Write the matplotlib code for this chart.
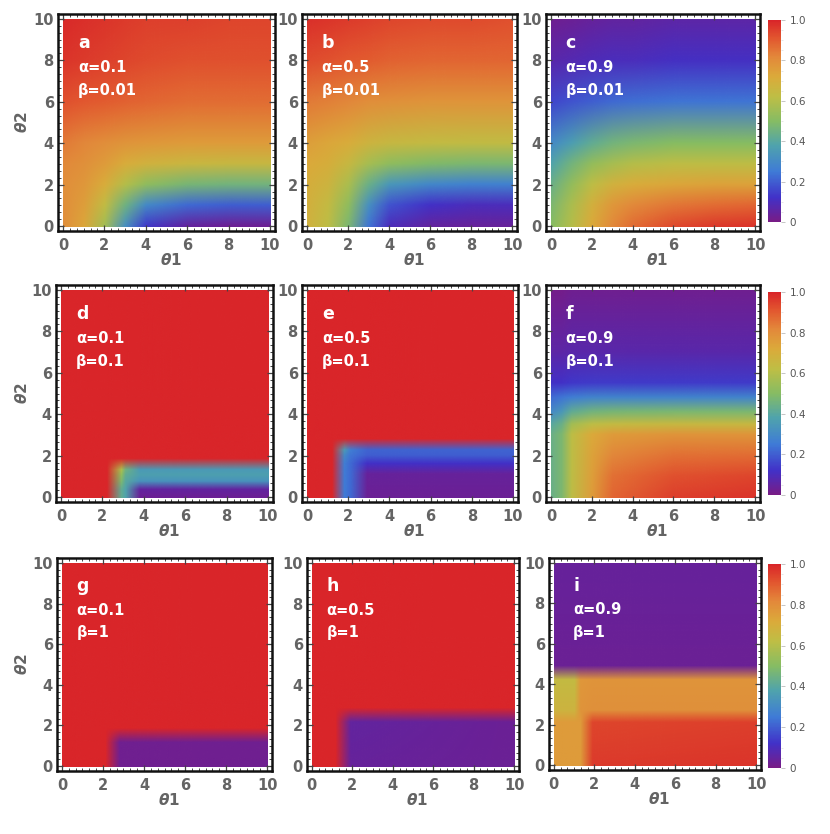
import matplotlib

matplotlib.use("Agg")

import matplotlib.pyplot as plt
import numpy as np
from matplotlib.cm import ScalarMappable
from matplotlib.colors import LinearSegmentedColormap, Normalize
from matplotlib.image import NonUniformImage
from matplotlib.patches import Rectangle
from matplotlib.ticker import AutoMinorLocator, FixedLocator, MultipleLocator

# colour scale (Mathematica-like "Rainbow")
RAINBOW_STOPS = [0.0, 0.12, 0.25, 0.38, 0.5, 0.62, 0.72, 0.82, 0.91, 1.0]
RAINBOW_COLORS = ["#781c86", "#4131c8", "#3f7bd6", "#4fa3ac", "#86bc63",
                  "#bebe45", "#dbaa3a", "#e3873a", "#e2572f", "#d92529"]
CBAR_TICKS = [0.0, 0.2, 0.4, 0.6, 0.8, 1.0]
CBAR_TICK_LABELS = ["0", "0.2", "0.4", "0.6", "0.8", "1.0"]

LETTERS = ["a", "b", "c", "d", "e", "f", "g", "h", "i"]
ALPHAS = ["0.1", "0.5", "0.9"] * 3
BETAS = ["0.01"] * 3 + ["0.1"] * 3 + ["1"] * 3
AXIS_TICKS = [0, 2, 4, 6, 8, 10]

smooth_t1 = [0, 1, 2, 3, 4, 6, 8, 10]
smooth_t2 = [0, 1, 2, 3, 4, 6, 8, 10]

panel_a = [
    [0.80, 0.73, 0.56, 0.32, 0.14, 0.05, 0.03, 0.03],
    [0.80, 0.75, 0.63, 0.45, 0.30, 0.22, 0.20, 0.20],
    [0.80, 0.77, 0.71, 0.60, 0.52, 0.47, 0.46, 0.46],
    [0.81, 0.79, 0.76, 0.71, 0.68, 0.66, 0.65, 0.65],
    [0.84, 0.82, 0.80, 0.78, 0.77, 0.76, 0.76, 0.76],
    [0.92, 0.91, 0.90, 0.89, 0.88, 0.87, 0.87, 0.87],
    [0.97, 0.96, 0.95, 0.94, 0.93, 0.92, 0.92, 0.92],
    [0.99, 0.98, 0.97, 0.96, 0.95, 0.95, 0.94, 0.94],
]
panel_b = [
    [0.68, 0.62, 0.48, 0.24, 0.10, 0.05, 0.04, 0.04],
    [0.69, 0.64, 0.52, 0.32, 0.18, 0.12, 0.10, 0.10],
    [0.70, 0.67, 0.58, 0.44, 0.34, 0.29, 0.27, 0.27],
    [0.72, 0.70, 0.65, 0.57, 0.52, 0.49, 0.48, 0.48],
    [0.75, 0.73, 0.71, 0.67, 0.65, 0.64, 0.63, 0.63],
    [0.84, 0.83, 0.82, 0.80, 0.79, 0.78, 0.78, 0.78],
    [0.93, 0.92, 0.91, 0.90, 0.89, 0.88, 0.88, 0.88],
    [0.98, 0.97, 0.96, 0.95, 0.94, 0.93, 0.93, 0.92],
]
panel_c = [
    [0.50, 0.60, 0.72, 0.81, 0.87, 0.93, 0.96, 0.97],
    [0.48, 0.58, 0.69, 0.77, 0.81, 0.85, 0.87, 0.88],
    [0.44, 0.53, 0.62, 0.68, 0.71, 0.73, 0.74, 0.74],
    [0.38, 0.46, 0.53, 0.57, 0.60, 0.62, 0.62, 0.62],
    [0.30, 0.36, 0.42, 0.46, 0.48, 0.50, 0.50, 0.50],
    [0.16, 0.18, 0.20, 0.22, 0.23, 0.24, 0.24, 0.24],
    [0.07, 0.08, 0.09, 0.10, 0.10, 0.11, 0.11, 0.11],
    [0.02, 0.03, 0.04, 0.05, 0.05, 0.06, 0.06, 0.06],
]

panel_d_t1 = [0, 2.2, 2.9, 3.1, 3.8, 10]
panel_d_t2 = [0, 0.35, 0.75, 1.05, 1.3, 1.85, 10]
panel_d = [
    [1.0, 1.0, 0.42, 0.38, 0.03, 0.03],
    [1.0, 1.0, 0.42, 0.38, 0.05, 0.05],
    [1.0, 1.0, 0.48, 0.40, 0.33, 0.33],
    [1.0, 1.0, 0.52, 0.42, 0.37, 0.37],
    [1.0, 1.0, 0.58, 0.45, 0.35, 0.35],
    [1.0, 1.0, 1.0, 1.0, 1.0, 1.0],
    [1.0, 1.0, 1.0, 1.0, 1.0, 1.0],
]

panel_e_t1 = [0, 1.2, 1.8, 2.1, 2.9, 10]
panel_e_t2 = [0, 1.1, 1.6, 2.0, 2.25, 2.8, 10]
panel_e = [
    [1.0, 1.0, 0.25, 0.22, 0.03, 0.03],
    [1.0, 1.0, 0.25, 0.22, 0.04, 0.04],
    [1.0, 1.0, 0.26, 0.22, 0.12, 0.12],
    [1.0, 1.0, 0.30, 0.24, 0.20, 0.20],
    [1.0, 1.0, 0.35, 0.26, 0.21, 0.21],
    [1.0, 1.0, 1.0, 1.0, 1.0, 1.0],
    [1.0, 1.0, 1.0, 1.0, 1.0, 1.0],
]

panel_f_t1 = [0, 0.5, 1, 2, 3, 6, 10]
panel_f_t2 = [0, 1, 2, 3, 3.5, 4.1, 4.8, 5.5, 7, 10]
panel_f = [
    [0.44, 0.48, 0.62, 0.76, 0.88, 0.95, 0.97],
    [0.44, 0.48, 0.62, 0.75, 0.86, 0.92, 0.94],
    [0.44, 0.48, 0.62, 0.74, 0.82, 0.86, 0.87],
    [0.44, 0.48, 0.62, 0.72, 0.76, 0.78, 0.78],
    [0.40, 0.44, 0.56, 0.62, 0.64, 0.65, 0.65],
    [0.30, 0.34, 0.42, 0.46, 0.47, 0.48, 0.48],
    [0.22, 0.24, 0.26, 0.28, 0.28, 0.28, 0.28],
    [0.12, 0.12, 0.13, 0.14, 0.14, 0.14, 0.14],
    [0.06, 0.06, 0.07, 0.07, 0.07, 0.07, 0.07],
    [0.01, 0.01, 0.02, 0.02, 0.02, 0.02, 0.02],
]

panel_g_t1 = [0, 2.1, 2.8, 10]
panel_g_t2 = [0, 1.15, 1.85, 10]
panel_g = [
    [1.0, 1.0, 0.02, 0.02],
    [1.0, 1.0, 0.02, 0.02],
    [1.0, 1.0, 1.0, 1.0],
    [1.0, 1.0, 1.0, 1.0],
]

panel_h_t1 = [0, 1.15, 1.9, 10]
panel_h_t2 = [0, 2.15, 2.85, 10]
panel_h = [
    [1.0, 1.0, 0.04, 0.03],
    [1.0, 1.0, 0.05, 0.03],
    [1.0, 1.0, 1.0, 1.0],
    [1.0, 1.0, 1.0, 1.0],
]

panel_i_t1 = [0, 1.0, 1.3, 1.9, 10]
panel_i_t2 = [0, 2.1, 2.7, 4.2, 4.9, 10]
panel_i = [
    [0.76, 0.76, 0.76, 0.96, 0.97],
    [0.76, 0.76, 0.76, 0.94, 0.95],
    [0.67, 0.67, 0.78, 0.79, 0.79],
    [0.64, 0.64, 0.77, 0.78, 0.78],
    [0.03, 0.03, 0.03, 0.03, 0.03],
    [0.04, 0.04, 0.04, 0.04, 0.04],
]

PANELS = [
    (smooth_t1, smooth_t2, panel_a),
    (smooth_t1, smooth_t2, panel_b),
    (smooth_t1, smooth_t2, panel_c),
    (panel_d_t1, panel_d_t2, panel_d),
    (panel_e_t1, panel_e_t2, panel_e),
    (panel_f_t1, panel_f_t2, panel_f),
    (panel_g_t1, panel_g_t2, panel_g),
    (panel_h_t1, panel_h_t2, panel_h),
    (panel_i_t1, panel_i_t2, panel_i),
]

# pixel layout (left, top, width, height) of the frames
FRAMES = [
    (58, 14, 217, 217), (302, 14, 215, 217), (546, 14, 214, 217),
    (56, 285, 217, 217), (302, 285, 216, 217), (546, 285, 214, 217),
    (57, 558, 215, 213), (307, 558, 212, 213), (549, 558, 212, 212),
]
CBARS = [(768, 20, 13, 202), (768, 292, 13, 203), (768, 564, 13, 204)]
FIG_W, FIG_H = 830, 834
PAD = 0.24
GRAY = "#646464"


def rect(left, top, width, height):
    return [left / FIG_W, 1 - (top + height) / FIG_H, width / FIG_W, height / FIG_H]


def style_frame(ax):
    ax.set_xlim(-PAD, 10 + PAD)
    ax.set_ylim(-PAD, 10 + PAD)
    ax.xaxis.set_major_locator(FixedLocator(AXIS_TICKS))
    ax.yaxis.set_major_locator(FixedLocator(AXIS_TICKS))
    ax.xaxis.set_minor_locator(AutoMinorLocator(6))
    ax.yaxis.set_minor_locator(AutoMinorLocator(6))
    ax.tick_params(which="both", direction="in", top=True, right=True, color="#444444")
    ax.tick_params(which="major", length=4, width=0.9, labelsize=10.5, labelcolor=GRAY)
    ax.tick_params(which="minor", length=2.2, width=0.7)
    ax.tick_params(axis="x", which="major", pad=5)
    ax.tick_params(axis="y", which="major", pad=3)
    for lab in ax.get_xticklabels() + ax.get_yticklabels():
        lab.set_fontweight("bold")
    for spine in ax.spines.values():
        spine.set_linewidth(1.8)
        spine.set_color("#111111")


def main():
    plt.rcParams["font.family"] = ["DejaVu Sans"]
    plt.rcParams["mathtext.fontset"] = "custom"
    plt.rcParams["mathtext.it"] = "DejaVu Sans:italic:bold"
    plt.rcParams["mathtext.rm"] = "DejaVu Sans:bold"
    plt.rcParams["mathtext.bf"] = "DejaVu Sans:bold"

    cmap = LinearSegmentedColormap.from_list("rainbow_mma", list(zip(RAINBOW_STOPS, RAINBOW_COLORS)))
    norm = Normalize(0.0, 1.0)

    fig = plt.figure(figsize=(FIG_W / 100, FIG_H / 100), dpi=100)

    for k, (t1, t2, values) in enumerate(PANELS):
        ax = fig.add_axes(rect(*FRAMES[k]))
        im = NonUniformImage(ax, interpolation="bilinear", extent=(0, 10, 0, 10), cmap=cmap, norm=norm)
        im.set_data(np.asarray(t1, float), np.asarray(t2, float), np.asarray(values, float))
        ax.add_image(im)
        im.set_clip_path(Rectangle((0, 0), 10, 10, transform=ax.transData))
        style_frame(ax)

        tx = 0.95 if LETTERS[k] == "i" else 0.72
        ax.text(tx, 8.6, LETTERS[k], color="white", fontsize=12.5, fontweight="bold", va="baseline")
        ax.text(tx, 7.45, "\u03b1=" + ALPHAS[k], color="white", fontsize=10.5, fontweight="bold", va="baseline")
        ax.text(tx, 6.35, "\u03b2=" + BETAS[k], color="white", fontsize=10.5, fontweight="bold", va="baseline")

        left, top, width, height = FRAMES[k]
        fig.text((left + width / 2 + 4) / FIG_W, 1 - (top + height + 29) / FIG_H, r"$\theta$1",
                 ha="center", va="center", fontsize=11, fontweight="bold", color=GRAY)
        if k % 3 == 0:
            fig.text(22 / FIG_W, 1 - (top + height / 2) / FIG_H, r"$\theta$2", rotation=90,
                     ha="center", va="center", fontsize=11, fontweight="bold", color=GRAY)

    for box in CBARS:
        cax = fig.add_axes(rect(*box))
        cb = fig.colorbar(ScalarMappable(norm=norm, cmap=cmap), cax=cax)
        cb.outline.set_visible(False)
        cb.set_ticks(CBAR_TICKS)
        cb.set_ticklabels(CBAR_TICK_LABELS)
        cax.yaxis.set_minor_locator(MultipleLocator(0.05))
        cax.tick_params(which="major", length=3, width=0.6, color="#bbbbbb", labelsize=7.5,
                        labelcolor="#555555", pad=3)
        cax.tick_params(which="minor", length=1.5, width=0.5, color="#dddddd")

    fig.savefig("out.png", dpi=100)
    plt.close(fig)


if __name__ == "__main__":
    main()
